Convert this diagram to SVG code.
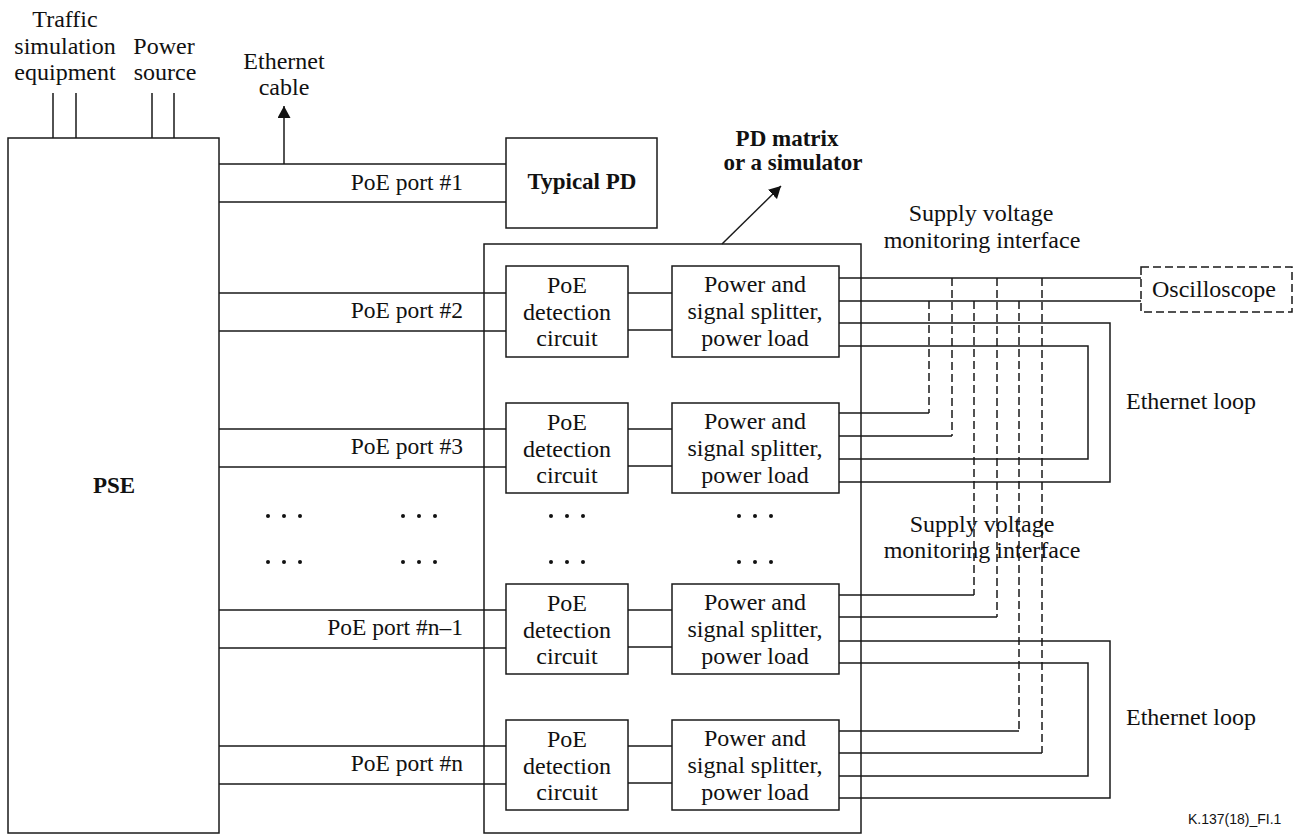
<svg xmlns="http://www.w3.org/2000/svg" width="1298" height="834" viewBox="0 0 1298 834">
<style>
.b{fill:#fff;stroke:#1a1a1a;stroke-width:1.5}
.l{fill:none;stroke:#1a1a1a;stroke-width:1.5}
.d{fill:none;stroke:#1a1a1a;stroke-width:1.5;stroke-dasharray:8 4}
.t{font-family:"Liberation Serif","Times New Roman",serif;font-size:24px;fill:#111}
.p{font-size:23.5px}
.m{text-anchor:middle}
.e{text-anchor:end}
.bo{font-weight:bold;font-size:23px}
.s{font-family:"Liberation Sans",Arial,sans-serif;font-size:14px;fill:#111}
</style>
<defs>
<marker id="ah" viewBox="0 0 12 13" refX="12" refY="6.5" markerWidth="12" markerHeight="13" markerUnits="userSpaceOnUse" orient="auto">
<path d="M0,0 L12,6.5 L0,13 Z" fill="#111"/>
</marker>
</defs>
<rect width="1298" height="834" fill="#fff"/>

<g id="connectors">
<path class="l" d="M53,93V138M76,93V138M152,93V138M174,93V138"/>
<path class="l" d="M284,164V106" marker-end="url(#ah)"/>
<path class="l" d="M219,164H506M219,202H506"/>
<path class="l" d="M219,293H506M219,331H506"/>
<path class="l" d="M219,429H506M219,467H506"/>
<path class="l" d="M219,610H506M219,648H506"/>
<path class="l" d="M219,746H506M219,784H506"/>
<path class="l" d="M628,293H672M628,330H672"/>
<path class="l" d="M628,429H672M628,466H672"/>
<path class="l" d="M628,610H672M628,647H672"/>
<path class="l" d="M628,746H672M628,783H672"/>
<path class="l" d="M722,244L781,186" marker-end="url(#ah)"/>
<path class="l" d="M839,278H1141M839,301H1141"/>
<path class="l" d="M839,323H1110V482H839M839,346H1088V459H839"/>
<path class="l" d="M839,413H929M839,436H952"/>
<path class="l" d="M839,595H974M839,617H997"/>
<path class="l" d="M839,641H1110V798H839M839,663H1088V776H839"/>
<path class="l" d="M839,731H1019M839,753H1042"/>
<path class="d" d="M929,301V413M952,278V436M974,301V595M997,278V617M1019,301V731M1042,278V753"/>
</g>

<g id="pse">
<rect class="b" x="8" y="138" width="211" height="695" fill="none"/>
<text class="t m bo" x="114" y="493">PSE</text>
</g>

<g id="labels-top">
<text class="t m" x="65" y="27">Traffic</text>
<text class="t m" x="65" y="54">simulation</text>
<text class="t m" x="65" y="80">equipment</text>
<text class="t m" x="164" y="54">Power</text>
<text class="t m" x="165" y="80">source</text>
<text class="t m" x="284" y="69">Ethernet</text>
<text class="t m" x="284" y="95">cable</text>
</g>

<g id="ports">
<text class="t p e" x="463" y="190">PoE port #1</text>
<text class="t p e" x="463" y="318">PoE port #2</text>
<text class="t p e" x="463" y="454">PoE port #3</text>
<text class="t p e" x="463" y="635">PoE port #n–1</text>
<text class="t p e" x="463" y="771">PoE port #n</text>
</g>

<g id="typical-pd">
<rect class="b" x="506" y="138" width="151" height="90"/>
<text class="t m bo" x="582" y="189">Typical PD</text>
</g>

<g id="pd-matrix">
<rect class="l" x="484" y="244" width="377" height="589"/>
<text class="t m bo" x="787" y="146">PD matrix</text>
<text class="t m bo" x="793" y="170">or a simulator</text>
</g>

<g id="det1">
<rect class="b" x="506" y="266" width="122" height="91"/>
<text class="t m" x="567" y="293">PoE</text><text class="t m" x="567" y="320">detection</text><text class="t m" x="567" y="346">circuit</text>
</g>
<g id="spl1">
<rect class="b" x="672" y="266" width="167" height="91"/>
<text class="t m" x="755" y="292">Power and</text><text class="t m" x="755" y="319">signal splitter,</text><text class="t m" x="755" y="346">power load</text>
</g>
<g id="det2">
<rect class="b" x="506" y="403" width="122" height="90"/>
<text class="t m" x="567" y="430">PoE</text><text class="t m" x="567" y="457">detection</text><text class="t m" x="567" y="483">circuit</text>
</g>
<g id="spl2">
<rect class="b" x="672" y="403" width="167" height="90"/>
<text class="t m" x="755" y="429">Power and</text><text class="t m" x="755" y="456">signal splitter,</text><text class="t m" x="755" y="483">power load</text>
</g>
<g id="det3">
<rect class="b" x="506" y="584" width="122" height="90"/>
<text class="t m" x="567" y="611">PoE</text><text class="t m" x="567" y="638">detection</text><text class="t m" x="567" y="664">circuit</text>
</g>
<g id="spl3">
<rect class="b" x="672" y="584" width="167" height="90"/>
<text class="t m" x="755" y="610">Power and</text><text class="t m" x="755" y="637">signal splitter,</text><text class="t m" x="755" y="664">power load</text>
</g>
<g id="det4">
<rect class="b" x="506" y="720" width="122" height="90"/>
<text class="t m" x="567" y="747">PoE</text><text class="t m" x="567" y="774">detection</text><text class="t m" x="567" y="800">circuit</text>
</g>
<g id="spl4">
<rect class="b" x="672" y="720" width="167" height="90"/>
<text class="t m" x="755" y="746">Power and</text><text class="t m" x="755" y="773">signal splitter,</text><text class="t m" x="755" y="800">power load</text>
</g>

<g id="dots" fill="#111">
<circle cx="268" cy="516" r="2"/><circle cx="284" cy="516" r="2"/><circle cx="300" cy="516" r="2"/>
<circle cx="403" cy="516" r="2"/><circle cx="419" cy="516" r="2"/><circle cx="435" cy="516" r="2"/>
<circle cx="551" cy="516" r="2"/><circle cx="567" cy="516" r="2"/><circle cx="583" cy="516" r="2"/>
<circle cx="739" cy="516" r="2"/><circle cx="755" cy="516" r="2"/><circle cx="771" cy="516" r="2"/>
<circle cx="268" cy="562" r="2"/><circle cx="284" cy="562" r="2"/><circle cx="300" cy="562" r="2"/>
<circle cx="403" cy="562" r="2"/><circle cx="419" cy="562" r="2"/><circle cx="435" cy="562" r="2"/>
<circle cx="551" cy="562" r="2"/><circle cx="567" cy="562" r="2"/><circle cx="583" cy="562" r="2"/>
<circle cx="739" cy="562" r="2"/><circle cx="755" cy="562" r="2"/><circle cx="771" cy="562" r="2"/>
</g>

<g id="oscilloscope">
<rect class="d" x="1141" y="267" width="151" height="45" fill="#fff"/>
<text class="t m" x="1214" y="297">Oscilloscope</text>
</g>

<g id="right-labels">
<text class="t m" x="981" y="221">Supply voltage</text>
<text class="t m" x="982" y="248">monitoring interface</text>
<text class="t m" x="982" y="532">Supply voltage</text>
<text class="t m" x="982" y="558">monitoring interface</text>
<text class="t" x="1126" y="409">Ethernet loop</text>
<text class="t" x="1126" y="725">Ethernet loop</text>
<text class="s" x="1188" y="824">K.137(18)_FI.1</text>
</g>
</svg>
